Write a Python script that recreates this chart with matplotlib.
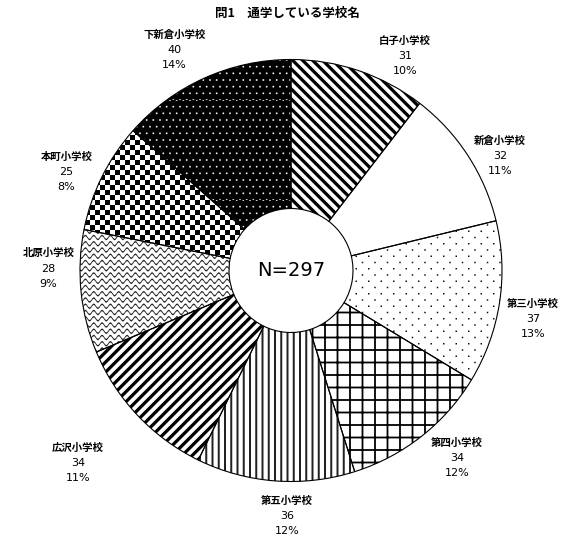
import warnings
import numpy as np
import matplotlib
matplotlib.use("Agg")
import matplotlib.pyplot as plt
import matplotlib.hatch as mhatch
import matplotlib.transforms as mtrans
from matplotlib.path import Path

warnings.filterwarnings("ignore")

# ---------------- data ----------------
schools = ["白子小学校", "新倉小学校", "第三小学校", "第四小学校", "第五小学校",
           "広沢小学校", "北原小学校", "本町小学校", "下新倉小学校"]
counts = [31, 32, 37, 34, 36, 34, 28, 25, 40]
percents = [10, 11, 13, 12, 12, 11, 9, 8, 14]
title = "問1　通学している学校名"
total_label = "N=297"

# ---------------- custom hatch patterns (geometry in 100px tile) ----------------
T = 100.0  # tile size in px at dpi 100


def _poly(pts):
    v = list(pts) + [pts[0]]
    c = [Path.MOVETO] + [Path.LINETO] * (len(pts) - 1) + [Path.CLOSEPOLY]
    return v, c


def diag_bands(sign, period_px, thick_px):
    V, C = [], []
    step = period_px / T
    t = thick_px / T
    n = int(round(1 / step))
    for k in range(-n - 2, 2 * n + 3):
        c = k * step
        if sign > 0:   # '/'  y = x + c
            pts = [(-0.3, -0.3 + c - 1), (1.3, 1.3 + c - 1), (1.3, 1.3 + c - 1 + t), (-0.3, -0.3 + c - 1 + t)]
        else:          # '\\' y = -x + c
            pts = [(-0.3, 0.3 + c), (1.3, -1.3 + c), (1.3, -1.3 + c + t), (-0.3, 0.3 + c + t)]
        v, cc = _poly(pts)
        V += v
        C += cc
    return V, C


def vbars(period_px, thick_px):
    V, C = [], []
    n = int(round(T / period_px))
    t = thick_px / T
    for k in range(n + 1):
        x = k / n
        v, c = _poly([(x - t / 2, -0.1), (x + t / 2, -0.1), (x + t / 2, 1.1), (x - t / 2, 1.1)])
        V += v
        C += c
    return V, C


def grid(period_px, thick_px):
    V, C = vbars(period_px, thick_px)
    n = int(round(T / period_px))
    t = thick_px / T
    for k in range(n + 1):
        y = k / n
        v, c = _poly([(-0.1, y - t / 2), (1.1, y - t / 2), (1.1, y + t / 2), (-0.1, y + t / 2)])
        V += v
        C += c
    return V, C


def checker(ncells):
    V, C = [], []
    s = 1.0 / ncells
    for i in range(ncells):
        for j in range(ncells):
            if (i + j) % 2 == 0:
                v, c = _poly([(i * s, j * s), ((i + 1) * s, j * s), ((i + 1) * s, (j + 1) * s), (i * s, (j + 1) * s)])
                V += v
                C += c
    return V, C


def dots(ncols, nrows, size_px):
    V, C = [], []
    h = size_px / T / 2
    for r in range(nrows + 1):
        y = r / nrows
        off = 0.5 / ncols if r % 2 else 0.0
        for k in range(-1, ncols + 2):
            x = k / ncols + off
            v, c = _poly([(x - h, y - h), (x + h, y - h), (x + h, y + h), (x - h, y + h)])
            V += v
            C += c
    return V, C


def waves(nrows, nperiods, amp_px, thick_px):
    V, C = [], []
    xs = np.linspace(-0.05, 1.05, 12 * nperiods + 2)
    A = amp_px / T
    t = thick_px / T
    for r in range(nrows + 1):
        y0 = r / nrows
        yy = y0 + A * np.sin(2 * np.pi * nperiods * xs)
        upper = [(x, y + t / 2) for x, y in zip(xs, yy)]
        lower = [(x, y - t / 2) for x, y in zip(xs[::-1], yy[::-1])]
        v, c = _poly(upper + lower)
        V += v
        C += c
    return V, C


PATTERNS = {
    "a": diag_bands(-1, 10.0, 4.6),   # \\ stripes
    "b": dots(8, 16, 1.5),            # sparse dots
    "d": grid(12.5, 1.8),             # grid
    "e": vbars(6.25, 2.0),            # vertical lines
    "f": diag_bands(+1, 10.0, 4.6),   # / stripes
    "g": waves(16, 12, 2.0, 1.5),     # waves
    "h": checker(20),                 # checkerboard
    "k": dots(15, 15, 1.6),           # white dots on black
}


def _make_cls(ch, vc):
    V, C = vc
    V = np.asarray(V, float)
    C = np.asarray(C, dtype=Path.code_type)

    class _H(mhatch.HatchPatternBase):
        def __init__(self, hatch, density):
            self.num_vertices = len(V) if (hatch and ch in hatch) else 0

        def set_vertices_and_codes(self, vertices, codes):
            vertices[:] = V
            codes[:] = C
    return _H


for _ch, _vc in PATTERNS.items():
    mhatch._hatch_types.append(_make_cls(_ch, _vc))

plt.rcParams["hatch.linewidth"] = 0.0
plt.rcParams["font.family"] = ["Noto Sans CJK JP", "DejaVu Sans"]

# ---------------- styles ----------------
hatches = ["a", None, "b", "d", "e", "f", "g", "h", "k"]
faces = ["white", "white", "white", "white", "white", "white", "white", "white", "black"]
hcolors = ["black", "black", "#111111", "black", "#222222", "black", "#222222", "black", "white"]
label_dist = [1.151, 1.129, 1.170, 1.187, 1.164, 1.361, 1.149, 1.162, 1.183]
label_nudge = [-9.2, -4.3, -2.5, 3.3, 3.3, -1.2, -6.2, 2.7, 3.6]

W, H = 570, 537
fig = plt.figure(figsize=(W / 100, H / 100), dpi=100)
ax = fig.add_axes([0, 0, 1, 1])

R_PX = 211.0
CX, CY = 291.0, 270.5
HOLE = 62.0 / R_PX

wedges, _ = ax.pie(counts, startangle=90, counterclock=False, radius=1,
                   wedgeprops=dict(width=1 - HOLE, linewidth=0))
for w, hch, fc, hc in zip(wedges, hatches, faces, hcolors):
    w.set_facecolor(fc)
    w.set_edgecolor(hc)
    w.set_linewidth(0)
    if hch:
        w.set_hatch(hch)

outl, _ = ax.pie(counts, startangle=90, counterclock=False, radius=1,
                 wedgeprops=dict(width=1 - HOLE, facecolor="none",
                                 edgecolor="black", linewidth=0.8))

LINE_PT = 11.0
for w, name, n, p, d, nd in zip(wedges, schools, counts, percents,
                                label_dist, label_nudge):
    ang = np.deg2rad((w.theta1 + w.theta2) / 2 + nd)
    x, y = d * np.cos(ang), d * np.sin(ang)
    for k, txt in enumerate([name, str(n), f"{p}%"]):
        tr = mtrans.offset_copy(ax.transData, fig=fig, x=0, y=(1 - k) * LINE_PT, units="points")
        if k == 0:
            ax.text(x, y, txt, transform=tr, ha="center", va="center",
                    fontsize=7.5, fontweight="bold", color="black")
        else:
            ax.text(x, y, txt, transform=tr, ha="center", va="center",
                    fontsize=8, family=["DejaVu Sans"], color="black")

ax.text(0, 0, total_label, ha="center", va="center", fontsize=14,
        family=["DejaVu Sans"], color="black")

ax.set_xlim(-CX / R_PX, (W - CX) / R_PX)
ax.set_ylim(-(H - CY) / R_PX, CY / R_PX)
ax.set_aspect("auto")
ax.axis("off")

fig.text(0.505, 1 - 13 / H, title, ha="center", va="center", fontsize=9,
         fontweight="bold")

fig.savefig("out.png", dpi=100, facecolor="white")
